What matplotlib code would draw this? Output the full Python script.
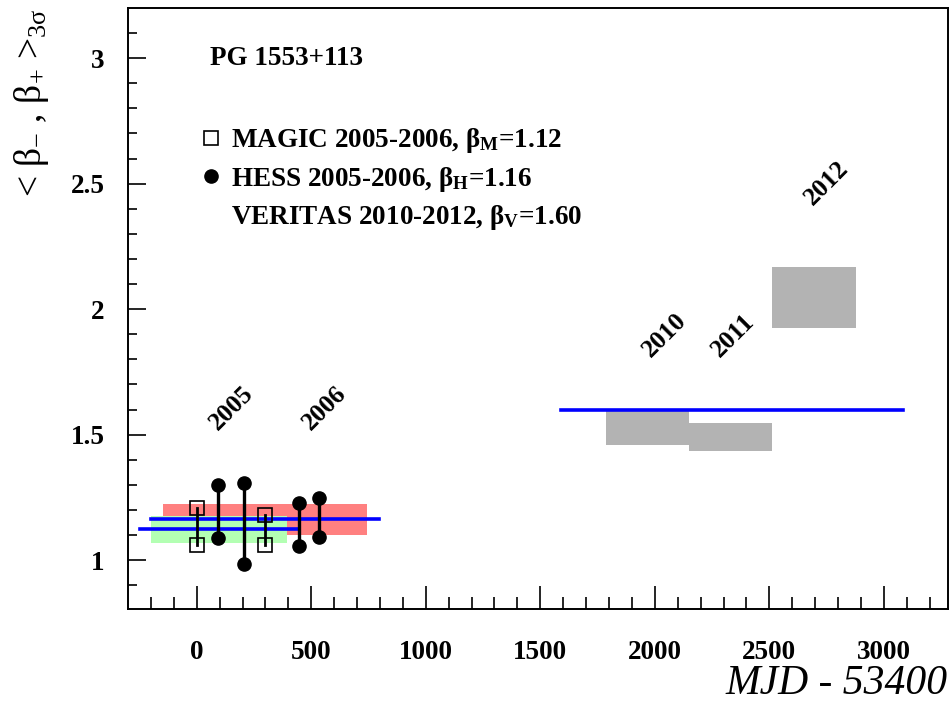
import matplotlib
matplotlib.use('Agg')
import matplotlib.pyplot as plt
from matplotlib.lines import Line2D

plt.rcParams['font.family'] = ['Liberation Serif', 'DejaVu Serif']
plt.rcParams['mathtext.fontset'] = 'custom'
plt.rcParams['mathtext.rm'] = 'Liberation Serif'
plt.rcParams['mathtext.it'] = 'Liberation Serif'
plt.rcParams['mathtext.bf'] = 'Liberation Serif:bold'

######data##########################################################

# MAGIC 2005-2006 : lower / upper beta at each epoch
magic_t = [0, 298]
magic_lo = [1.060, 1.060]
magic_hi = [1.208, 1.179]

# HESS 2005-2006
hess_t = [92, 207, 445, 536]
hess_lo = [1.089, 0.984, 1.058, 1.093]
hess_hi = [1.300, 1.307, 1.227, 1.249]

# bands: x start, x end, y low, y high
hess_band = [-147, 745, 1.100, 1.222]
magic_band = [-201, 396, 1.068, 1.174]

# VERITAS yearly boxes
ver_x0 = [1786, 2150, 2512]
ver_x1 = [2150, 2512, 2878]
ver_lo = [1.458, 1.434, 1.926]
ver_hi = [1.598, 1.548, 2.167]

# mean beta lines: x start, x end, value
beta_M = [-246, 445, 1.124]
beta_H = [-198, 795, 1.162]
beta_V = [1590, 3083, 1.600]

years = ['2005', '2006', '2010', '2011', '2012']
year_x = [153, 559, 2044, 2341, 2751]
year_y = [1.606, 1.606, 1.896, 1.896, 2.502]

######plot##########################################################

fig = plt.figure(figsize=(9.5, 7.04), dpi=100)
ax = fig.add_axes([128/950, 95/704, 820/950, 601/704])

ax.bar(hess_band[0], hess_band[3]-hess_band[2], width=hess_band[1]-hess_band[0],
       bottom=hess_band[2], align='edge', color='#ff8080', lw=0, zorder=1)
ax.bar(magic_band[0], magic_band[3]-magic_band[2], width=magic_band[1]-magic_band[0],
       bottom=magic_band[2], align='edge', color='#b3ffb3', lw=0, zorder=2)

for i in range(len(ver_x0)):
    ax.bar(ver_x0[i], ver_hi[i]-ver_lo[i], width=ver_x1[i]-ver_x0[i],
           bottom=ver_lo[i], align='edge', color='#b3b3b3', lw=0, zorder=2)

for b in [beta_M, beta_H, beta_V]:
    ax.plot([b[0], b[1]], [b[2], b[2]], color='#0000ff', lw=2.6, zorder=3)

for i in range(len(magic_t)):
    ax.plot([magic_t[i], magic_t[i]], [magic_lo[i], magic_hi[i]], color='black',
            lw=2.0, zorder=4)
ax.plot(magic_t + magic_t, magic_lo + magic_hi, 's', ms=9.5, mfc='none',
        mec='black', mew=1.2, zorder=5)

for i in range(len(hess_t)):
    ax.plot([hess_t[i], hess_t[i]], [hess_lo[i], hess_hi[i]], color='black',
            lw=2.4, zorder=4)
ax.plot(hess_t + hess_t, hess_lo + hess_hi, 'o', ms=9.5, color='black', zorder=5)

for i in range(len(years)):
    ax.text(year_x[i], year_y[i], years[i], rotation=45, ha='center', va='center',
            fontsize=18.5, fontweight='bold')

ax.text(57, 3.0, 'PG 1553+113', ha='left', va='center', fontsize=19.5,
        fontweight='bold')

handles = [Line2D([], [], ls='none', marker='s', ms=9.5, mfc='none', mec='black', mew=1.2),
           Line2D([], [], ls='none', marker='o', ms=9.5, color='black'),
           Line2D([], [], ls='none')]
labels = [u'MAGIC 2005-2006, \u03b2$_{\\mathbf{M}}$=1.12',
          u'HESS 2005-2006, \u03b2$_{\\mathbf{H}}$=1.16',
          u'VERITAS 2010-2012, \u03b2$_{\\mathbf{V}}$=1.60']
ax.legend(handles, labels, loc='upper left', bbox_to_anchor=(0.068, 0.826),
          frameon=False, handlelength=1.0, handletextpad=0.25, borderpad=0,
          labelspacing=0.35, prop={'family': 'Liberation Serif', 'weight': 'bold', 'size': 19.5})

ax.set_xlim(-300, 3280)
ax.set_ylim(0.805, 3.2)
ax.set_xticks([0, 500, 1000, 1500, 2000, 2500, 3000])
ax.set_xticks(range(-200, 3280, 100), minor=True)
ax.set_yticks([1, 1.5, 2, 2.5, 3])
ax.set_yticklabels(['1', '1.5', '2', '2.5', '3'])
ax.set_yticks([0.9 + 0.1*i for i in range(23)], minor=True)

ax.tick_params(axis='x', which='major', direction='in', length=16.5, width=1.2, pad=22)
ax.tick_params(axis='x', which='minor', direction='in', length=8.5, width=1.2)
ax.tick_params(axis='y', which='major', direction='in', length=13, width=1.2, pad=17)
ax.tick_params(axis='y', which='minor', direction='in', length=6.5, width=1.2)
for lab in ax.get_xticklabels() + ax.get_yticklabels():
    lab.set_fontweight('bold')
    lab.set_fontsize(19.5)

for s in ax.spines.values():
    s.set_linewidth(1.4)

ax.set_xlabel('MJD - 53400', fontsize=30, style='italic', loc='right', labelpad=0)
ax.set_ylabel(u'< \u03b2$_{-}$ , \u03b2$_{+}$ >$_{3\u03c3}$', fontsize=27, loc='top', labelpad=14)

fig.savefig('out.png', dpi=100)
